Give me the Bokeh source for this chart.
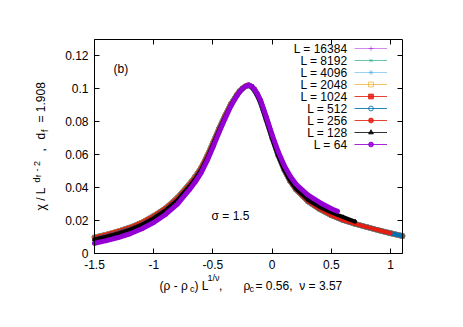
import math
from bokeh.plotting import figure
from bokeh.models import (Range1d, FixedTicker, LinearAxis, Label, Legend,
                          LegendItem, ColumnDataSource)
from bokeh.embed import file_html
from bokeh.resources import INLINE

# ---------------- data ----------------
X_BIG = [-1.5, -1.4, -1.3, -1.2, -1.1, -1.0, -0.9, -0.8, -0.7, -0.65, -0.6, -0.55,
         -0.5, -0.45, -0.4, -0.35, -0.3, -0.275, -0.25, -0.225, -0.2, -0.175,
         -0.15, -0.125, -0.1, -0.05, 0.0, 0.05, 0.1, 0.15, 0.2, 0.3, 0.4, 0.5,
         0.6, 0.7, 0.8, 0.9, 1.0, 1.1]
Y_BIG = [0.0098, 0.0115, 0.0135, 0.0158, 0.0188, 0.0228, 0.0275, 0.0338, 0.0420,
         0.0466, 0.0520, 0.0590, 0.0672, 0.0755, 0.0834, 0.0905, 0.0962, 0.0986,
         0.1003, 0.1016, 0.1022, 0.1014, 0.0994, 0.0964, 0.0926, 0.0818, 0.0705,
         0.0600, 0.0512, 0.0442, 0.0390, 0.0318, 0.0270, 0.0232, 0.0203, 0.0180,
         0.0160, 0.0141, 0.0123, 0.0106]

X_512 = X_BIG
Y_512 = [0.0089, 0.0106, 0.0126, 0.0149, 0.0179, 0.0219, 0.0267, 0.0330, 0.0412,
         0.0458, 0.0512, 0.0582, 0.0665, 0.0750, 0.0830, 0.0902, 0.0960, 0.0985,
         0.1003, 0.1016, 0.1022, 0.1013, 0.0992, 0.0961, 0.0922, 0.0813, 0.0701,
         0.0597, 0.0511, 0.0442, 0.0390, 0.0318, 0.0270, 0.0232, 0.0203, 0.0180,
         0.0160, 0.0141, 0.0123, 0.0106]

X_256 = X_BIG[:39]
Y_256 = [0.0088, 0.0105, 0.0125, 0.0148, 0.0178, 0.0218, 0.0266, 0.0329, 0.0411,
         0.0457, 0.0511, 0.0581, 0.0664, 0.0749, 0.0830, 0.0902, 0.0960, 0.0985,
         0.1003, 0.1016, 0.1022, 0.1013, 0.0992, 0.0961, 0.0922, 0.0813, 0.0701,
         0.0597, 0.0511, 0.0442, 0.0390, 0.0318, 0.0270, 0.0232, 0.0203, 0.0180,
         0.0160, 0.0141, 0.0123]

X_128 = X_BIG[:36]
Y_128 = [0.0085, 0.0102, 0.0122, 0.0145, 0.0175, 0.0214, 0.0262, 0.0324, 0.0406,
         0.0452, 0.0506, 0.0577, 0.0660, 0.0745, 0.0826, 0.0899, 0.0958, 0.0983,
         0.1001, 0.1015, 0.1021, 0.1012, 0.0990, 0.0958, 0.0918, 0.0808, 0.0697,
         0.0594, 0.0510, 0.0444, 0.0395, 0.0327, 0.0283, 0.0249, 0.0221, 0.0194]

X_64 = X_BIG[:34] + [0.55]
Y_64 = [0.0062, 0.0078, 0.0097, 0.0120, 0.0150, 0.0188, 0.0237, 0.0300, 0.0386,
        0.0434, 0.0490, 0.0562, 0.0646, 0.0733, 0.0816, 0.0893, 0.0955, 0.0982,
        0.1002, 0.1016, 0.1023, 0.1016, 0.0998, 0.0970, 0.0934, 0.0830, 0.0720,
        0.0620, 0.0537, 0.0472, 0.0422, 0.0356, 0.0310, 0.0272, 0.0257]

SIZES = ["16384", "8192", "4096", "2048", "1024", "512", "256", "128", "64"]
SERIES_X = [X_BIG, X_BIG, X_BIG, X_BIG, X_BIG, X_512, X_256, X_128, X_64]
SERIES_Y = [Y_BIG, Y_BIG, Y_BIG, Y_BIG, Y_BIG, Y_512, Y_256, Y_128, Y_64]

X_TICKS = [-1.5, -1.0, -0.5, 0.0, 0.5, 1.0]
X_TICK_LABELS = ["-1.5", "-1", "-0.5", "0", "0.5", "1"]
Y_TICKS = [0.0, 0.02, 0.04, 0.06, 0.08, 0.1, 0.12]
Y_TICK_LABELS = ["0", "0.02", "0.04", "0.06", "0.08", "0.1", "0.12"]
X_MIN, X_MAX = -1.5, 1.1
Y_MIN, Y_MAX = 0.0, 0.13

# ---------------- styles / layout ----------------
COLORS = ["#9400d3", "#009e73", "#56b4e9", "#e69f00", "#e51e10", "#0072b2",
          "#e51e10", "#000000", "#9400d3"]
LEG_ALPHA = [0.45, 0.6, 0.6, 0.6, 0.85, 0.85, 0.85, 0.8, 0.85]
MARKERS = ["cross", "x", "asterisk", "square", "square", "circle", "circle",
           "triangle", "circle"]
FILLED = [False, False, False, False, True, False, True, True, True]
THICK = [5.5, 5.5, 5.0, 5.0, 4.5, 4.5, 4.0, 4.0, 5.0]
FONT = "Liberation Sans"
NB = "\u00a0"  # non-breaking space (SVG collapses ordinary runs of spaces)

W, H = 455, 319
# gnuplot box in picture pixels
BL, BR, BT, BB = 94, 402, 39, 253
sx = (BR - BL) / (X_MAX - X_MIN)
sy = (BB - BT) / (Y_MAX - Y_MIN)
xr = Range1d(X_MIN - BL / sx, X_MAX + (W - BR) / sx)
yr = Range1d(Y_MIN - (H - BB) / sy, Y_MAX + BT / sy)

# the plotting frame covers the whole canvas; the axes are pinned to the box
p = figure(width=W, height=H, x_range=xr, y_range=yr, output_backend="svg",
           toolbar_location=None, min_border_left=0, min_border_right=0,
           min_border_top=0, min_border_bottom=0)
p.background_fill_color = "white"
p.border_fill_color = "white"
p.outline_line_color = None
p.xgrid.visible = False
p.ygrid.visible = False


def style_axis(ax, labels):
    ax.major_tick_in = 5
    ax.major_tick_out = 0
    ax.minor_tick_line_color = None
    ax.axis_line_color = "black"
    ax.axis_line_width = 1
    ax.major_tick_line_color = "black"
    ax.major_label_text_font = FONT
    ax.major_label_text_font_size = "12px"
    ax.major_label_text_color = "black"
    ax.major_label_standoff = 6
    if not labels:
        ax.major_label_text_alpha = 0
        ax.major_label_text_font_size = "1px"


xa = p.xaxis[0]
xa.ticker = FixedTicker(ticks=X_TICKS)
xa.major_label_overrides = dict(zip(X_TICKS, X_TICK_LABELS))
xa.fixed_location = Y_MIN
xa.bounds = (X_MIN, X_MAX)
style_axis(xa, True)

ya = p.yaxis[0]
ya.ticker = FixedTicker(ticks=Y_TICKS)
ya.major_label_overrides = dict(zip(Y_TICKS, Y_TICK_LABELS))
ya.fixed_location = X_MIN
ya.bounds = (Y_MIN, Y_MAX)
style_axis(ya, True)

ax_r = LinearAxis(ticker=FixedTicker(ticks=Y_TICKS), fixed_location=X_MAX,
                  bounds=(Y_MIN, Y_MAX))
style_axis(ax_r, False)
p.add_layout(ax_r, "right")
ax_t = LinearAxis(ticker=FixedTicker(ticks=X_TICKS), fixed_location=Y_MAX,
                  bounds=(X_MIN, X_MAX))
style_axis(ax_t, False)
p.add_layout(ax_t, "above")

# legend-sample renderers (thin line + marker), drawn first so they sit under the bands
items = []
sources = []
for i, L in enumerate(SIZES):
    src = ColumnDataSource(dict(x=SERIES_X[i], y=SERIES_Y[i]))
    sources.append(src)
    lr = p.line("x", "y", source=src, line_color=COLORS[i], line_width=1,
                line_alpha=LEG_ALPHA[i])
    sr = p.scatter("x", "y", source=src, marker=MARKERS[i], size=4,
                   line_color=COLORS[i], line_alpha=LEG_ALPHA[i],
                   fill_color=COLORS[i] if FILLED[i] else None,
                   fill_alpha=LEG_ALPHA[i])
    items.append(LegendItem(label=" ", renderers=[lr, sr]))

# thick data bands
for i, L in enumerate(SIZES):
    p.line("x", "y", source=sources[i], line_color=COLORS[i], line_width=THICK[i],
           line_join="round", line_cap="round")

legend = Legend(items=items, location=(354, H - 150), orientation="vertical",
                glyph_width=33, glyph_height=12, label_width=0, label_height=12,
                label_standoff=0, padding=0, margin=0, spacing=0,
                label_text_font_size="8px", border_line_alpha=0,
                background_fill_alpha=0)
p.add_layout(legend)


def lab(text, ix, iy, size=12, angle=0.0, align="left"):
    # position in picture pixels (frame == canvas, origin bottom-left)
    p.add_layout(Label(x=ix, y=H - iy, x_units="screen", y_units="screen",
                       text=text, text_font=FONT, text_font_size=f"{size}px",
                       text_align=align, text_baseline="middle", angle=angle,
                       angle_units="rad", text_color="black"))


# legend texts (gnuplot style: text left of sample, right aligned)
for i, L in enumerate(SIZES):
    lab(f"L = {L}", 347, 48 + 12 * i, align="right")

lab("(b)", 113, 68)
lab("σ = 1.5", 230, 215.5, align="center")

# x-axis label: (ρ - ρc) L^(1/ν),   ρc = 0.56,  ν = 3.57
lab("(ρ - ρ", 159, 285)
lab("c", 189.5, 288.5, size=9)
lab(") L", 194, 285)
lab("1/ν", 207, 277.5, size=9)
lab(",", 218.5, 285)
lab("ρ", 243, 285)
lab("c", 249, 288.5, size=9)
lab(f"={NB}0.56,{NB}{NB}ν{NB}={NB}3.57", 255, 285)

# y-axis label (rotated): χ / L^(d_f - 2),   d_f = 1.908
A = math.pi / 2
lab(f"χ{NB}/{NB}L", 40, 210, angle=A)
lab("d", 36, 182, size=9, angle=A)
lab("f", 38, 176.5, size=7, angle=A)
lab(f"-{NB}2", 36, 171, size=9, angle=A)
lab(",", 40, 151, angle=A)
lab("d", 40, 139, angle=A)
lab("f", 44, 131.5, size=9, angle=A)
lab(f"={NB}1.908", 40, 122, angle=A)

open("out.html", "w").write(file_html(p, INLINE))
